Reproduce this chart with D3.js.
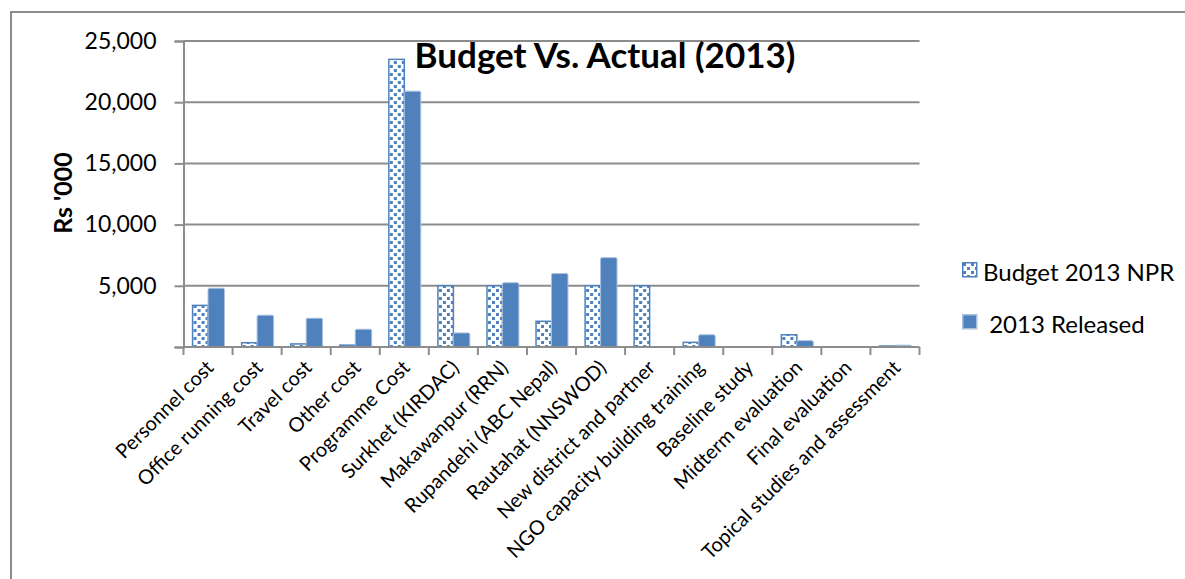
<!DOCTYPE html>
<html>
<head>
<meta charset="utf-8">
<script src="https://cdn.jsdelivr.net/npm/d3@7"></script>
<style>
  html, body { margin: 0; padding: 0; background: #fff; }
  svg { display: block; }
  text { font-family: Lato, "Open Sans", sans-serif; fill: #000; }
</style>
</head>
<body>
<svg id="chart" width="1185" height="579"></svg>
<script>
// Budget heads shown along the x axis
const categories = [
  "Personnel cost", "Office running cost", "Travel cost", "Other cost",
  "Programme Cost", "Surkhet (KIRDAC)", "Makawanpur (RRN)", "Rupandehi (ABC Nepal)",
  "Rautahat (NNSWOD)", "New district and partner", "NGO capacity building training",
  "Baseline study", "Midterm evaluation", "Final evaluation", "Topical studies and assessment"
];
// Rs '000
const budget2013 = [3400, 350, 250, 150, 23500, 5000, 5000, 2100, 5000, 5000, 380, 0, 1000, 0, 80];
const released2013 = [4800, 2600, 2350, 1450, 20900, 1150, 5250, 6000, 7300, 0, 1000, 0, 520, 0, 150];
const seriesNames = ["Budget 2013 NPR", " 2013 Released"];
const yTicks = [0, 5000, 10000, 15000, 20000, 25000];

const svg = d3.select("#chart");
const blue = "#4F81BD";

// dotted fill for the budget bars
const defs = svg.append("defs");
const pat = defs.append("pattern")
  .attr("id", "dots")
  .attr("patternUnits", "userSpaceOnUse")
  .attr("width", 8).attr("height", 8);
pat.append("rect").attr("width", 8).attr("height", 8).attr("fill", "#fff");
pat.append("rect").attr("x", 1).attr("y", 1).attr("width", 3).attr("height", 3).attr("fill", blue);
pat.append("rect").attr("x", 5).attr("y", 5).attr("width", 3).attr("height", 3).attr("fill", blue);

// outer frame of the chart area
svg.append("rect")
  .attr("x", 11).attr("y", 12).attr("width", 1200).attr("height", 600)
  .attr("fill", "none").attr("stroke", "#8c8c8c").attr("stroke-width", 2);

const plot = { left: 183.5, right: 919.5, top: 41, bottom: 347 };

const x0 = d3.scaleBand().domain(categories).range([plot.left, plot.right])
  .paddingInner(0.37).paddingOuter(0.185);
const x1 = d3.scaleBand().domain([0, 1]).range([0, x0.bandwidth()]);
const y = d3.scaleLinear().domain([0, 25000]).range([plot.bottom, plot.top]);

// horizontal gridlines
svg.append("g").selectAll("line")
  .data(yTicks.filter(d => d > 0))
  .join("line")
  .attr("x1", plot.left).attr("x2", plot.right)
  .attr("y1", d => y(d)).attr("y2", d => y(d))
  .attr("stroke", "#8c8c8c").attr("stroke-width", 2);

// y axis
const yAxis = svg.append("g")
  .attr("transform", `translate(${plot.left},0)`)
  .call(d3.axisLeft(y).tickValues(yTicks).tickSize(9).tickPadding(18)
    .tickFormat(d => d === 0 ? "" : d3.format(",")(d)));
yAxis.select(".domain").attr("stroke", "#8c8c8c").attr("stroke-width", 2);
yAxis.selectAll(".tick line").attr("stroke", "#8c8c8c").attr("stroke-width", 2);
yAxis.selectAll(".tick text")
  .style("font-family", "Lato, sans-serif").style("font-size", "23px").attr("fill", "#000");

// bars
const groups = svg.append("g").selectAll("g")
  .data(categories)
  .join("g")
  .attr("transform", d => `translate(${x0(d)},0)`);

groups.append("rect")
  .attr("x", x1(0))
  .attr("y", (d, i) => y(budget2013[i]))
  .attr("width", x1.bandwidth())
  .attr("height", (d, i) => y(0) - y(budget2013[i]))
  .attr("fill", "url(#dots)")
  .attr("stroke", blue).attr("stroke-width", 1.5)
  .attr("display", (d, i) => budget2013[i] > 0 ? null : "none");

groups.append("rect")
  .attr("x", x1(1))
  .attr("y", (d, i) => y(released2013[i]))
  .attr("width", x1.bandwidth() + 1)
  .attr("height", (d, i) => y(0) - y(released2013[i]))
  .attr("rx", 1.5)
  .attr("fill", blue)
  .attr("stroke", "#a9c0de").attr("stroke-width", 1)
  .attr("display", (d, i) => released2013[i] > 0 ? null : "none");

// x axis with ticks between categories
const step = x0.step();
const bounds = d3.range(categories.length + 1).map(i => plot.left + i * step);
svg.append("line")
  .attr("x1", plot.left).attr("x2", plot.right)
  .attr("y1", plot.bottom).attr("y2", plot.bottom)
  .attr("stroke", "#8c8c8c").attr("stroke-width", 2);
svg.append("g").selectAll("line")
  .data(bounds)
  .join("line")
  .attr("x1", d => d).attr("x2", d => d)
  .attr("y1", plot.bottom).attr("y2", plot.bottom + 8)
  .attr("stroke", "#8c8c8c").attr("stroke-width", 2);

// category labels, rotated 45 degrees
svg.append("g").selectAll("text")
  .data(categories)
  .join("text")
  .attr("transform", d => `translate(${x0(d) + x0.bandwidth() / 2 - 3},${plot.bottom + 12}) rotate(-45)`)
  .attr("text-anchor", "end")
  .attr("dy", "0.7em")
  .style("font-size", "20px")
  .text(d => d);

// y axis title
svg.append("text")
  .attr("transform", `translate(72,193) rotate(-90)`)
  .attr("text-anchor", "middle")
  .style("font-size", "25px").style("font-weight", "bold")
  .text("Rs '000");

// chart title
svg.append("text")
  .attr("x", 605).attr("y", 68)
  .attr("text-anchor", "middle")
  .style("font-size", "35px").style("font-weight", "bold")
  .text("Budget Vs. Actual (2013)");

// legend
const legend = svg.append("g").attr("transform", "translate(962,262)");
const items = legend.selectAll("g")
  .data(seriesNames)
  .join("g")
  .attr("transform", (d, i) => `translate(0,${i * 52})`);
items.append("rect")
  .attr("x", 0.75).attr("y", 0.75).attr("width", 14).attr("height", 14)
  .attr("fill", (d, i) => i === 0 ? "url(#dots)" : blue)
  .attr("stroke", (d, i) => i === 0 ? blue : "#a9c0de")
  .attr("stroke-width", 1.5);
items.append("text")
  .attr("x", 21).attr("y", 10)
  .attr("dy", "0.36em")
  .style("font-size", "24px")
  .attr("xml:space", "preserve")
  .text(d => d);
</script>
</body>
</html>
